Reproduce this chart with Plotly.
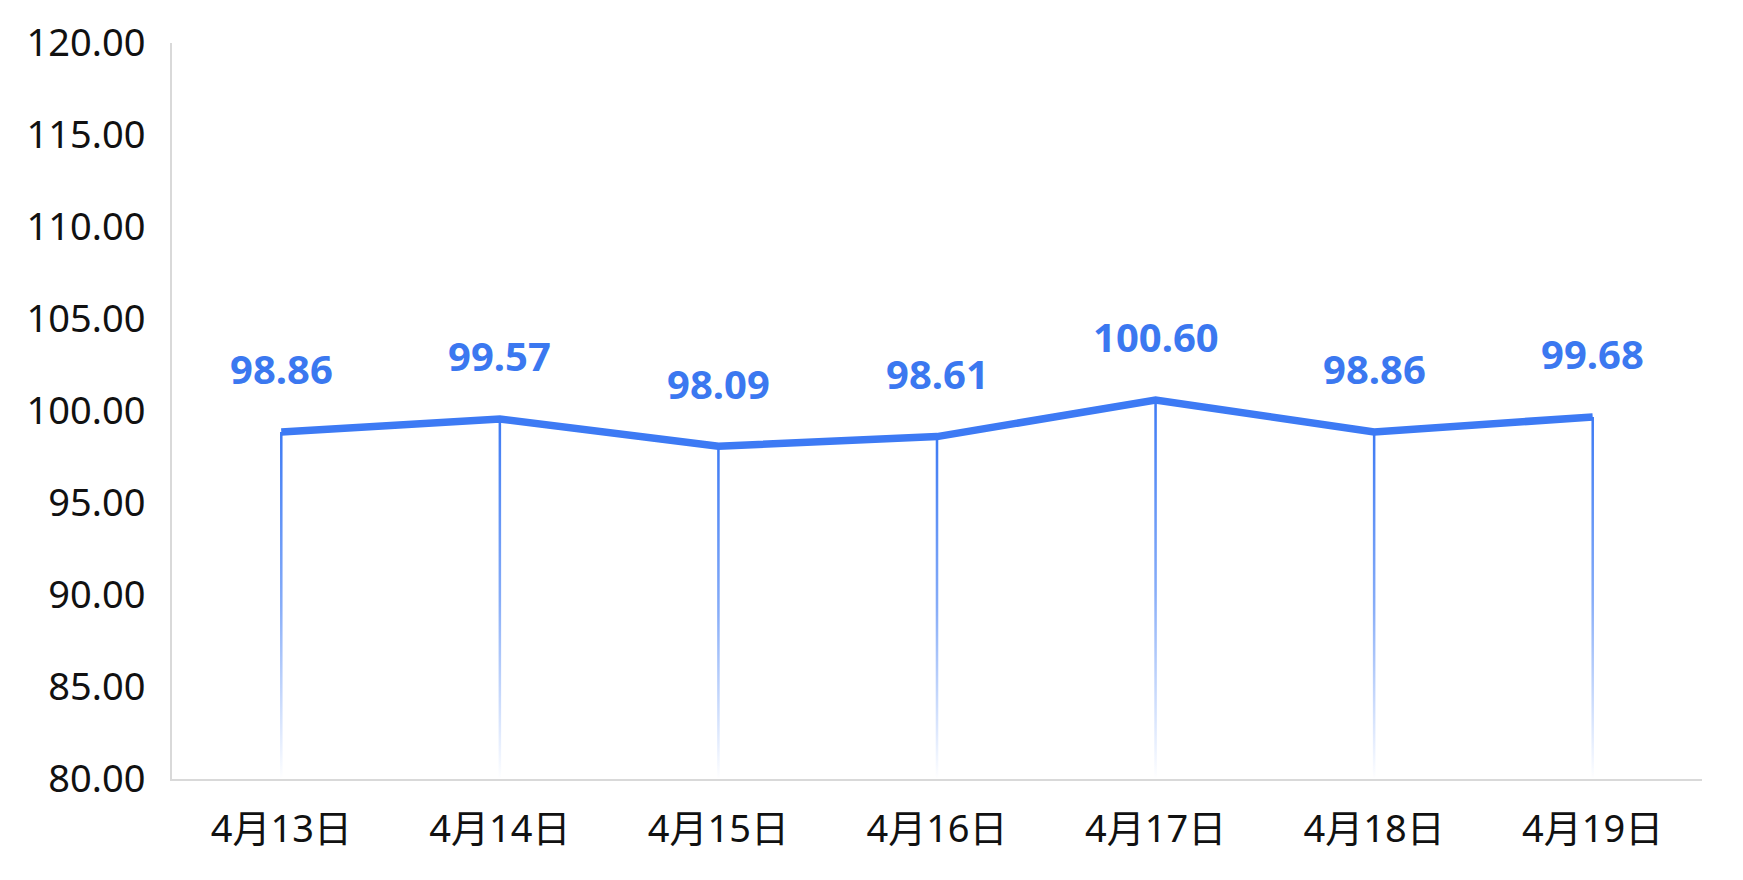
import plotly.graph_objects as go

categories = ["4月13日", "4月14日", "4月15日", "4月16日", "4月17日", "4月18日", "4月19日"]
values = [98.86, 99.57, 98.09, 98.61, 100.60, 98.86, 99.68]
y_ticks = [80, 85, 90, 95, 100, 105, 110, 115, 120]

BLUE = "#3d7af4"
FONT = "Noto Sans, Noto Sans CJK SC, sans-serif"
Y_MIN, Y_MAX = 80, 120

fig = go.Figure()

# gradient drop lines (thin filled polygons with vertical gradient)
half_w = 0.0058
for i, v in enumerate(values):
    fig.add_trace(go.Scatter(
        x=[i - half_w, i + half_w, i + half_w, i - half_w, i - half_w],
        y=[Y_MIN, Y_MIN, v, v, Y_MIN],
        mode="none", fill="toself",
        fillgradient=dict(type="vertical",
                          colorscale=[[0, "rgba(61,122,244,0)"], [0.5, "rgba(61,122,244,0.62)"], [1, "rgba(61,122,244,1)"]]),
        hoverinfo="skip", showlegend=False,
    ))

fig.add_trace(go.Scatter(
    x=list(range(len(categories))), y=values, mode="lines",
    line=dict(color=BLUE, width=7.5), showlegend=False,
))

for i, v in enumerate(values):
    fig.add_annotation(x=i, y=v, text=f"{v:.2f}", showarrow=False, yshift=63,
                       font=dict(family=FONT, size=40, color="#3b78f0", weight="bold"))

fig.update_layout(
    width=1735, height=872,
    margin=dict(l=164, r=41, t=35, b=101),
    plot_bgcolor="white", paper_bgcolor="white",
    font=dict(family=FONT, size=38, color="#111111"),
)
fig.update_xaxes(
    range=[-0.5, len(categories) - 0.5], automargin=False,
    tickmode="array", tickvals=list(range(len(categories))), ticktext=categories,
    showgrid=False, zeroline=False, showline=True, linecolor="#d9d9d9", linewidth=2,
    ticks="", ticklabelstandoff=15, tickfont=dict(size=38),
)
fig.update_yaxes(
    range=[Y_MIN, Y_MAX], automargin=False, tickmode="array", tickvals=y_ticks,
    ticktext=[f"{t:.2f}" for t in y_ticks],
    showgrid=False, zeroline=False, showline=True, linecolor="#d9d9d9", linewidth=2,
    ticks="", ticklabelstandoff=17, tickfont=dict(size=38),
)

fig.write_html("out.html")
